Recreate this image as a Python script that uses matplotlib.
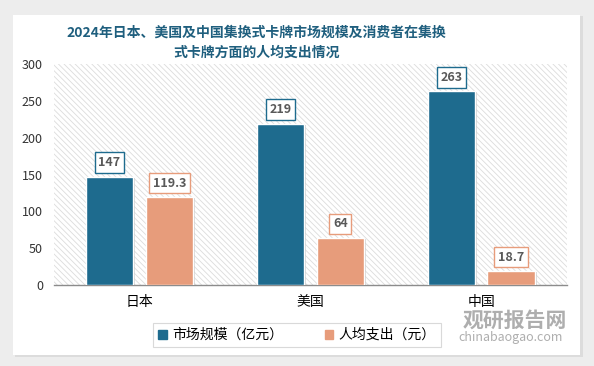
import matplotlib.pyplot as plt
from matplotlib.patches import Rectangle
import numpy as np

plt.rcParams['font.family'] = ['Noto Sans CJK SC', 'DejaVu Sans']
plt.rcParams['hatch.linewidth'] = 0.6

# data
countries = ['日本', '美国', '中国']
market_size = [147, 219, 263]        # 亿元
per_capita = [119.3, 64, 18.7]       # 元
series_names = ['市场规模（亿元）', '人均支出（元）']
yticks = [0, 50, 100, 150, 200, 250, 300]

blue = '#1E6B8E'
orange = '#E79C7B'
title_color = '#1F5F7E'

fig = plt.figure(figsize=(5.94, 3.66), dpi=100)
fig.patch.set_facecolor('#EDEDED')

# white card with soft shadow, kept behind the axes
fig.patches.append(Rectangle((15 / 594, 1 - 357 / 366), 568 / 594, 341 / 366,
                             transform=fig.transFigure, facecolor='#DCDCDC',
                             edgecolor='none', zorder=-10))
fig.patches.append(Rectangle((13 / 594, 1 - 355 / 366), 567 / 594, 340 / 366,
                             transform=fig.transFigure, facecolor='white',
                             edgecolor='none', zorder=-9))

ax = fig.add_axes([54 / 594, 1 - 285 / 366, 512.7 / 594, 221 / 366])
ax.patch.set_facecolor('white')
ax.patch.set_hatch('\\\\\\\\\\\\')
ax.patch.set_edgecolor('#DCDCDC')
ax.patch.set_linewidth(0)

x = np.arange(len(countries))
w = 0.277
off = 0.175

bars1 = ax.bar(x - off, market_size, w, color=blue, edgecolor='white', linewidth=1, zorder=3)
bars2 = ax.bar(x + off, per_capita, w, color=orange, edgecolor='white', linewidth=1, zorder=3)

# subtle bar shadows
for bars in (bars1, bars2):
    for b in bars:
        ax.add_patch(Rectangle((b.get_x() + 0.012, 0), b.get_width(), b.get_height() - 1.5,
                               facecolor='#BDBDBD', edgecolor='none', alpha=0.6, zorder=2))

def label(bars, vals, ec):
    for b, v in zip(bars, vals):
        ax.annotate(f'{v:g}', (b.get_x() + b.get_width() / 2, b.get_height()),
                    xytext=(0, 14), textcoords='offset pixels', ha='center', va='center',
                    fontsize=9, fontweight='bold', color='#595959', zorder=5,
                    bbox=dict(boxstyle='square,pad=0.3', facecolor='white', edgecolor=ec, linewidth=1))

label(bars1, market_size, blue)
label(bars2, per_capita, orange)

ax.set_xlim(-0.5, 2.5)
ax.set_ylim(0, 300)
ax.set_yticks(yticks)
ax.set_xticks(x)
ax.set_xticklabels(countries, fontsize=10)
ax.tick_params(axis='y', length=0, labelsize=9, colors='#333333', pad=8)
ax.tick_params(axis='x', length=0, pad=7)
for s in ['top', 'right', 'left']:
    ax.spines[s].set_visible(False)
ax.spines['bottom'].set_color('#8C8C8C')
ax.spines['bottom'].set_linewidth(1)

fig.text(256 / 594, 1 - 33 / 366, '2024年日本、美国及中国集换式卡牌市场规模及消费者在集换',
         ha='center', va='center', fontsize=10, fontweight='bold', color=title_color)
fig.text(256 / 594, 1 - 53 / 366, '式卡牌方面的人均支出情况',
         ha='center', va='center', fontsize=10, fontweight='bold', color=title_color)

handles = [Rectangle((0, 0), 1, 1, color=blue), Rectangle((0, 0), 1, 1, color=orange)]
leg = fig.legend(handles, series_names, loc='center', bbox_to_anchor=(297 / 594, 1 - 335 / 366),
                 ncol=2, fontsize=10, frameon=True, fancybox=False, edgecolor='#D0D0D0',
                 handlelength=0.6, handleheight=0.6, handletextpad=0.4, columnspacing=3.0,
                 borderpad=0.35)
leg.get_frame().set_linewidth(0.8)

# watermark
fig.text(463 / 594, 1 - 320 / 366, '观研报告网', fontsize=15, fontweight='bold',
         color='#9A9A9A', alpha=0.8, ha='left', va='center')
fig.text(458 / 594, 1 - 337 / 366, 'chinabaogao.com', fontsize=9,
         color='#9A9A9A', alpha=0.8, ha='left', va='center')

fig.savefig('out.png', dpi=100, facecolor=fig.get_facecolor())
